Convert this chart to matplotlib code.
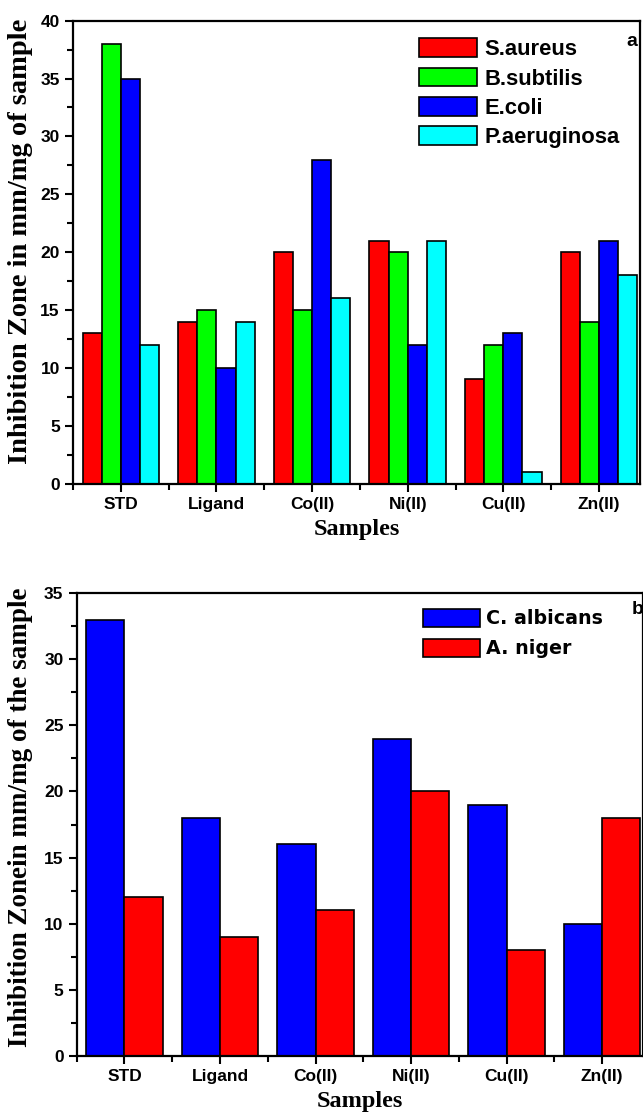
import matplotlib
matplotlib.use("Agg")
import matplotlib.pyplot as plt
import numpy as np
from matplotlib.ticker import MultipleLocator, FixedLocator

# data
samples = ["STD", "Ligand", "Co(II)", "Ni(II)", "Cu(II)", "Zn(II)"]

bact_names = ["S.aureus", "B.subtilis", "E.coli", "P.aeruginosa"]
s_aureus = [13, 14, 20, 21, 9, 20]
b_subtilis = [38, 15, 15, 20, 12, 14]
e_coli = [35, 10, 28, 12, 13, 21]
p_aeruginosa = [12, 14, 16, 21, 1, 18]

fung_names = ["C. albicans", "A. niger"]
c_albicans = [33, 18, 16, 24, 19, 10]
a_niger = [12, 9, 11, 20, 8, 18]

sans = ["Liberation Sans", "DejaVu Sans"]
serif = ["Liberation Serif", "DejaVu Serif"]

fig = plt.figure(figsize=(6.43, 11.17), dpi=100)
x = np.arange(len(samples))


def style_axes(ax, ymax):
    ax.set_xlim(-0.5, 5.43)
    ax.set_ylim(0, ymax)
    ax.set_xticks(x)
    ax.set_xticklabels(samples)
    ax.xaxis.set_minor_locator(FixedLocator(np.arange(-0.5, 6.0, 1.0)))
    ax.yaxis.set_major_locator(MultipleLocator(5))
    ax.yaxis.set_minor_locator(MultipleLocator(2.5))
    ax.tick_params(which="both", direction="out", width=1.5, top=False, right=False)
    ax.tick_params(which="major", length=6)
    ax.tick_params(which="minor", length=4)
    for lab in ax.get_xticklabels() + ax.get_yticklabels():
        lab.set_family(sans)
        lab.set_fontweight("bold")
        lab.set_fontsize(12.5)
    for sp in ax.spines.values():
        sp.set_linewidth(1.6)


# panel a
ax1 = fig.add_axes([0.1135, 0.567, 0.882, 0.4145])
w = 0.2
series = [s_aureus, b_subtilis, e_coli, p_aeruginosa]
colors = ["#ff0000", "#00ff00", "#0000ff", "#00ffff"]
for i, (vals, c, name) in enumerate(zip(series, colors, bact_names)):
    ax1.bar(x + (i - 1.5) * w, vals, w, color=c, edgecolor="black", linewidth=1.2, label=name)
style_axes(ax1, 40)
ax1.set_xlabel("Samples", family=serif, fontweight="bold", fontsize=17.5, labelpad=5)
ax1.set_ylabel("Inhibition Zone in mm/mg of sample", family=serif, fontweight="bold",
               fontsize=20.5)
ax1.yaxis.set_label_coords(-0.071, 0.524)
ax1.legend(loc="upper left", bbox_to_anchor=(0.61, 0.962), frameon=False,
           prop={"family": sans, "weight": "bold", "size": 15.8},
           handlelength=2.65, handleheight=0.95, handletextpad=0.35,
           labelspacing=0.33, borderpad=0, borderaxespad=0)
ax1.text(0.995, 0.955, "a", transform=ax1.transAxes, family=sans, fontweight="bold",
         fontsize=14, ha="right", va="center")

# panel b
ax2 = fig.add_axes([0.1193, 0.0549, 0.881, 0.4139])
w2 = 0.4
ax2.bar(x - w2 / 2, c_albicans, w2, color="#0000ff", edgecolor="black", linewidth=1.2,
        label=fung_names[0])
ax2.bar(x + w2 / 2, a_niger, w2, color="#ff0000", edgecolor="black", linewidth=1.2,
        label=fung_names[1])
style_axes(ax2, 35)
ax2.set_xlabel("Samples", family=serif, fontweight="bold", fontsize=17.5, labelpad=5)
ax2.set_ylabel("Inhibition Zonein mm/mg of the sample", family=serif, fontweight="bold",
               fontsize=19.5)
ax2.yaxis.set_label_coords(-0.077, 0.516)
ax2.legend(loc="upper left", bbox_to_anchor=(0.612, 0.967), frameon=False,
           prop={"family": "DejaVu Sans", "weight": "bold", "size": 13.7},
           handlelength=3.0, handleheight=1.1, handletextpad=0.3,
           labelspacing=0.55, borderpad=0, borderaxespad=0)
ax2.text(1.0, 0.965, "b", transform=ax2.transAxes, family=sans, fontweight="bold",
         fontsize=14, ha="right", va="center")

fig.savefig("out.png", dpi=100)
